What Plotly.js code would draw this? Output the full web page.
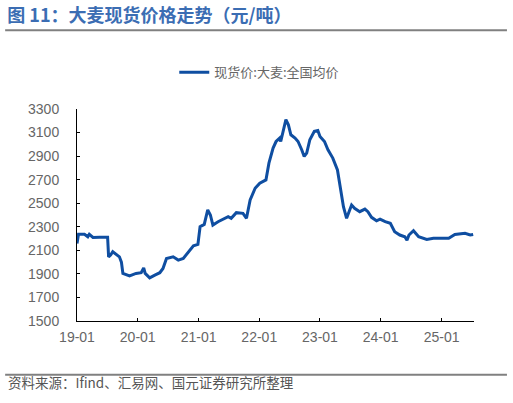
<!DOCTYPE html>
<html>
<head>
<meta charset="utf-8">
<script src="https://cdn.plot.ly/plotly-3.0.1.min.js"></script>
<style>
  html, body { margin: 0; padding: 0; background: #fff; }
  #chart { width: 513px; height: 403px; }
</style>
</head>
<body>
<div id="chart"></div>
<script>
// 大麦现货价格（元/吨）
const dates = [
  '2019-01-01', '2019-01-10', '2019-02-15', '2019-03-07', '2019-03-16', '2019-04-07',
  '2019-05-16', '2019-06-16', '2019-07-04', '2019-07-10', '2019-07-22', '2019-08-04',
  '2019-08-25', '2019-09-13', '2019-09-25', '2019-10-04', '2019-11-13', '2019-12-22',
  '2020-01-22', '2020-02-06', '2020-02-15', '2020-03-13', '2020-04-13', '2020-05-13',
  '2020-06-01', '2020-06-22', '2020-08-01', '2020-09-01', '2020-10-01', '2020-11-01',
  '2020-12-01', '2020-12-28', '2021-01-10', '2021-02-04', '2021-02-25', '2021-03-13',
  '2021-03-28', '2021-04-28', '2021-06-07', '2021-06-28', '2021-07-16', '2021-08-16',
  '2021-09-25', '2021-10-16', '2021-11-07', '2021-12-07', '2022-01-04', '2022-02-10',
  '2022-02-28', '2022-03-25', '2022-04-12', '2022-05-04', '2022-05-10', '2022-05-25',
  '2022-06-10', '2022-06-25', '2022-07-10', '2022-08-04', '2022-08-22', '2022-09-13',
  '2022-09-28', '2022-10-13', '2022-11-01', '2022-11-28', '2022-12-19', '2023-01-01',
  '2023-01-28', '2023-02-18', '2023-03-19', '2023-04-16', '2023-04-28', '2023-05-07',
  '2023-05-22', '2023-06-10', '2023-06-25', '2023-07-10', '2023-07-28', '2023-08-28',
  '2023-09-28', '2023-10-16', '2023-11-07', '2023-12-07', '2023-12-28', '2024-01-28',
  '2024-02-28', '2024-03-25', '2024-04-25', '2024-05-25', '2024-06-07', '2024-06-19',
  '2024-07-16', '2024-08-16', '2024-10-04', '2024-11-13', '2024-12-25', '2025-02-13',
  '2025-03-22', '2025-05-22', '2025-06-22', '2025-07-10'
];
const prices = [
  2159, 2236, 2236, 2215, 2236, 2210,
  2212, 2208, 2212, 2045, 2060, 2088,
  2065, 2045, 2000, 1904, 1883, 1904,
  1910, 1951, 1904, 1866, 1890, 1910,
  1946, 2031, 2045, 2017, 2031, 2088,
  2139, 2150, 2300, 2320, 2443, 2400,
  2315, 2343, 2372, 2386, 2372, 2420,
  2414, 2372, 2528, 2627, 2670, 2698,
  2840, 2968, 3024, 3053, 3024, 3124,
  3209, 3166, 3081, 3053, 3024, 2954,
  2897, 2925, 3039, 3110, 3117, 3067,
  3024, 2954, 2883, 2783, 2684, 2585,
  2471, 2372, 2428, 2485, 2457, 2428,
  2450, 2428, 2380, 2351, 2365, 2343,
  2329, 2258, 2230, 2215, 2187, 2230,
  2266, 2215, 2193, 2203, 2203, 2203,
  2235, 2244, 2230, 2235
];
const tickVals = ['2019-01-01', '2020-01-01', '2021-01-01', '2022-01-01', '2023-01-01', '2024-01-01', '2025-01-01'];
const tickText = ['19-01', '20-01', '21-01', '22-01', '23-01', '24-01', '25-01'];
const yTicks = [1500, 1700, 1900, 2100, 2300, 2500, 2700, 2900, 3100, 3300];

const trace = {
  x: dates,
  y: prices,
  type: 'scatter',
  mode: 'lines',
  name: '现货价:大麦:全国均价',
  line: { color: '#0f4ea1', width: 3 }
};

const layout = {
  width: 513,
  height: 403,
  margin: { l: 77, r: 39, t: 109, b: 82 },
  paper_bgcolor: '#fff',
  plot_bgcolor: '#fff',
  font: { family: '"Liberation Sans", Arial, sans-serif', color: '#666', size: 14 },
  title: {
    text: '<b>图 11：大麦现货价格走势（元/吨）</b>',
    x: 0.014, xanchor: 'left', xref: 'container',
    y: 0.962, yanchor: 'middle', yref: 'container',
    font: { family: '"Noto Sans CJK SC", sans-serif', size: 18, color: '#3b6db3' }
  },
  showlegend: true,
  legend: {
    orientation: 'h',
    x: 0.245, xanchor: 'left',
    y: 1.173, yanchor: 'middle',
    font: { family: '"Noto Sans CJK SC", sans-serif', size: 13, color: '#666' },
    bgcolor: 'rgba(0,0,0,0)'
  },
  xaxis: {
    type: 'date',
    range: ['2019-01-01', '2025-07-15'],
    tickvals: tickVals,
    ticktext: tickText,
    ticks: 'inside',
    ticklen: 3,
    tickcolor: '#000',
    showline: true,
    linecolor: '#000',
    linewidth: 1,
    showgrid: false,
    zeroline: false,
    ticklabelstandoff: 3,
    tickfont: { size: 14, color: '#666' }
  },
  yaxis: {
    range: [1500, 3300],
    tickvals: yTicks,
    ticks: 'inside',
    ticklen: 3,
    tickcolor: '#000',
    showline: true,
    linecolor: '#000',
    linewidth: 1,
    showgrid: false,
    zeroline: false,
    ticklabelstandoff: 14,
    tickfont: { size: 14, color: '#666' }
  },
  shapes: [
    { type: 'line', xref: 'paper', yref: 'paper', x0: -0.181, x1: 1.083, y0: 1.372, y1: 1.372,
      line: { color: '#808080', width: 2 } },
    { type: 'line', xref: 'paper', yref: 'paper', x0: -0.181, x1: 1.083, y0: -0.2535, y1: -0.2535,
      line: { color: '#808080', width: 2 } }
  ],
  annotations: [
    { text: '资料来源：Ifind、汇易网、国元证券研究所整理', xref: 'paper', yref: 'paper',
      x: -0.178, xanchor: 'left', y: -0.289, yanchor: 'middle', showarrow: false,
      font: { family: '"Noto Sans CJK SC", sans-serif', size: 13.5, color: '#555' } }
  ]
};

Plotly.newPlot('chart', [trace], layout, { displayModeBar: false, staticPlot: true });
</script>
</body>
</html>
